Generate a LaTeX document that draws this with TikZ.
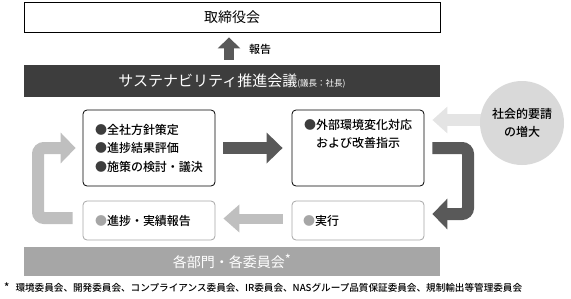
\documentclass[tikz,border=0pt]{standalone}
\usepackage{fontspec}
\setmainfont{Noto Sans CJK JP}[BoldFont={Noto Sans CJK JP Medium}]
\usetikzlibrary{arrows.meta,calc}
\definecolor{barDark}{HTML}{3D3D3D}
\definecolor{arrowDark}{HTML}{595959}
\definecolor{arrowLight}{HTML}{BFBFBF}
\definecolor{circleFill}{HTML}{D9D9D9}
\definecolor{circleArrow}{HTML}{E4E4E4}
\definecolor{softBorder}{HTML}{A6A6A6}
\definecolor{deptFill}{HTML}{A6A6A6}
\newcommand{\dkbul}{\textcolor{barDark}{●}}
\newcommand{\ltbul}{\textcolor{softBorder}{●}}
\begin{document}
\begin{tikzpicture}[x=1pt,y=-1pt,
  widebox/.style={minimum width=416pt,inner sep=0pt},
  cardbox/.style={draw=black,line width=0.8pt,rounded corners=4pt,fill=white,
    minimum width=132pt,minimum height=76pt,inner sep=0pt},
  softbox/.style={draw=softBorder,line width=0.8pt,rounded corners=4pt,fill=white,
    minimum width=132pt,minimum height=39pt,inner sep=0pt},
  boxtext/.style={font=\bfseries\fontsize{12}{18.5}\selectfont},
  darkarrow/.style={draw=arrowDark,line width=12pt,
    -{Triangle[width=30pt,length=16pt]}},
  lightarrow/.style={draw=arrowLight,line width=10pt,
    -{Triangle[width=27pt,length=16pt]}},
  darkloop/.style={draw=arrowDark,line width=12pt,rounded corners=6pt,
    -{Triangle[width=30pt,length=15pt]}},
  lightloop/.style={draw=arrowLight,line width=12pt,rounded corners=6pt,
    -{Triangle[width=30pt,length=15pt]}},
  pastelarrow/.style={draw=circleArrow,line width=12pt,
    -{Triangle[width=26pt,length=15pt]}},
  reportarrow/.style={draw=arrowDark,line width=10pt,
    -{Triangle[width=22pt,length=11pt]}}
]
\useasboundingbox (0,0) rectangle (571,298);

% top board
\node[widebox,draw=black,line width=0.8pt,minimum height=30pt,
  font=\fontsize{14}{16}\selectfont] (board) at (232,17) {取締役会};

% council bar
\node[widebox,fill=barDark,minimum height=32pt,text=white] (council) at (232,81)
  {\fontsize{15}{17}\selectfont サステナビリティ推進会議\fontsize{8.5}{10}\selectfont (議長：社長)};

% cards
\node[cardbox,boxtext,text width=108pt,align=left] (ul) at (149,148)
  {\dkbul 全社方針策定\\\dkbul 進捗結果評価\\\dkbul 施策の検討・議決};
\node[cardbox] (ur) at (358,148) {};
\node[boxtext,anchor=north,align=center,inner sep=0pt] (urtext) at (358,119)
  {\dkbul 外部環境変化対応\\および改善指示};
\node[softbox,boxtext,text width=108pt,align=left] (ll) at (149,220.5)
  {\ltbul 進捗・実績報告};
\node[softbox,boxtext,text width=110pt,align=left] (lr) at (358,220.5)
  {\ltbul 実行};

% departments bar
\node[widebox,fill=deptFill,minimum height=29pt,text=white,
  font=\fontsize{14}{16}\selectfont] (depts) at (232,261.5)
  {各部門・各委員会\raisebox{3pt}{\fontsize{13}{13}\selectfont *}};

% society circle arrow (drawn under circle)
\draw[pastelarrow] (495,120) -- ($(ur.east)+(8,-28)$);
\node[circle,fill=circleFill,minimum size=84pt,inner sep=0pt,
  font=\bfseries\fontsize{12}{18.5}\selectfont,align=center] (society) at (522,123)
  {社会的要請\\の増大};

% report arrow
\draw[reportarrow] ($(council.north)+(-3,-5)$) -- ($(board.south)+(-3,5)$);
\node[font=\bfseries\fontsize{11}{13}\selectfont,inner sep=0pt] (reportlbl) at (260,49) {報告};

% cycle arrows
\draw[darkarrow] ($(ul.east)+(8,0)$) -- ($(ur.west)+(-9,0)$);
\draw[darkloop] ($(ur.east)+(8,0)$) -- (468,148) -- (468,214) -- ($(lr.east)+(8,-6.5)$);
\draw[lightarrow] ($(lr.west)+(-9,-2)$) -- ($(ll.east)+(8,-2)$);
\draw[lightloop] ($(ll.west)+(-10,-2.5)$) -- (38,218) -- (38,148) -- ($(ul.west)+(-7,0)$);

% footnote
\node[anchor=west,inner sep=0pt,font=\bfseries\fontsize{9.6}{11}\selectfont] (note) at (4,288)
  {{\fontsize{11}{11}\selectfont *}\hspace{6pt}環境委員会、開発委員会、コンプライアンス委員会、IR委員会、NASグループ品質保証委員会、規制輸出等管理委員会};
\end{tikzpicture}
\end{document}
